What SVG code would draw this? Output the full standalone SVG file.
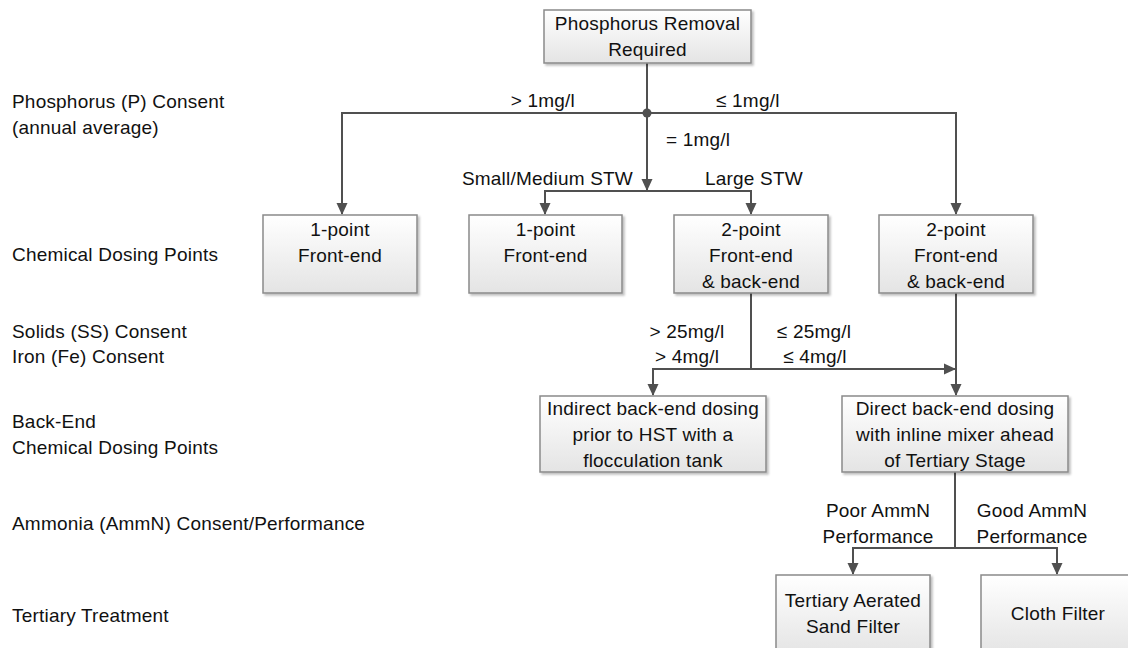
<svg xmlns="http://www.w3.org/2000/svg" width="1128" height="648" viewBox="0 0 1128 648">
<defs>
<linearGradient id="g" x1="0" y1="0" x2="0" y2="1">
<stop offset="0" stop-color="#ffffff"/>
<stop offset="1" stop-color="#e4e4e4"/>
</linearGradient>
<marker id="ar" markerWidth="12" markerHeight="12" viewBox="0 0 12 12" refX="11" refY="6" orient="auto" markerUnits="userSpaceOnUse">
<path d="M0,0.5 L12,6 L0,11.5 Z" fill="#505050"/>
</marker>
<filter id="sh" x="-10%" y="-10%" width="120%" height="130%">
<feDropShadow dx="2" dy="2" stdDeviation="1.2" flood-color="#000" flood-opacity="0.25"/>
</filter>
</defs>
<style>
text{font-family:"Liberation Sans",Arial,sans-serif;font-size:19px;letter-spacing:0.2px;fill:#111}
.c{text-anchor:middle}
.box{fill:url(#g);stroke:#8a8a8a;stroke-width:1.5;filter:url(#sh)}
.ln{fill:none;stroke:#505050;stroke-width:2}
.a{marker-end:url(#ar)}
</style>
<g id="labels">
<text x="12" y="108">Phosphorus (P) Consent</text>
<text x="12" y="134">(annual average)</text>
<text x="12" y="261">Chemical Dosing Points</text>
<text x="12" y="338">Solids (SS) Consent</text>
<text x="12" y="363">Iron (Fe) Consent</text>
<text x="12" y="428">Back-End</text>
<text x="12" y="454">Chemical Dosing Points</text>
<text x="12" y="530">Ammonia (AmmN) Consent/Performance</text>
<text x="12" y="622">Tertiary Treatment</text>
</g>
<g id="connectors">
<path class="ln a" d="M647,63 V190"/>
<path class="ln a" d="M647,113 H342 V214"/>
<path class="ln a" d="M647,113 H956 V214"/>
<circle cx="647" cy="113" r="4.5" fill="#505050"/>
<path class="ln a" d="M647,191 H545 V214"/>
<path class="ln a" d="M647,191 H751 V214"/>
<path class="ln" d="M751,293 V369"/>
<path class="ln a" d="M751,369 H653 V395"/>
<path class="ln a" d="M751,369 H955"/>
<path class="ln a" d="M956,293 V395"/>
<path class="ln" d="M955,472 V548"/>
<path class="ln a" d="M955,548 H853 V574"/>
<path class="ln a" d="M955,548 H1057 V574"/>
<text x="575" y="107" text-anchor="end">&gt; 1mg/l</text>
<text x="716" y="107">≤ 1mg/l</text>
<text x="666" y="146">= 1mg/l</text>
<text x="633" y="185" text-anchor="end">Small/Medium STW</text>
<text x="705" y="185">Large STW</text>
<text class="c" x="687" y="338">&gt; 25mg/l</text>
<text class="c" x="687" y="363">&gt; 4mg/l</text>
<text class="c" x="814" y="338">≤ 25mg/l</text>
<text class="c" x="815" y="363">≤ 4mg/l</text>
<text class="c" x="878" y="517">Poor AmmN</text>
<text class="c" x="878" y="543">Performance</text>
<text class="c" x="1032" y="517">Good AmmN</text>
<text class="c" x="1032" y="543">Performance</text>
</g>
<g id="n_top">
<rect class="box" x="544" y="10" width="207" height="53"/>
<text class="c" x="647.5" y="30">Phosphorus Removal</text>
<text class="c" x="647.5" y="56">Required</text>
</g>
<g id="n_p1">
<rect class="box" x="263" y="215" width="154" height="78"/>
<text class="c" x="340" y="236">1-point</text>
<text class="c" x="340" y="262">Front-end</text>
</g>
<g id="n_p2">
<rect class="box" x="469" y="215" width="153" height="78"/>
<text class="c" x="545.5" y="236">1-point</text>
<text class="c" x="545.5" y="262">Front-end</text>
</g>
<g id="n_p3">
<rect class="box" x="674" y="215" width="154" height="78"/>
<text class="c" x="751" y="236">2-point</text>
<text class="c" x="751" y="262">Front-end</text>
<text class="c" x="751" y="288">&amp; back-end</text>
</g>
<g id="n_p4">
<rect class="box" x="879" y="215" width="154" height="78"/>
<text class="c" x="956" y="236">2-point</text>
<text class="c" x="956" y="262">Front-end</text>
<text class="c" x="956" y="288">&amp; back-end</text>
</g>
<g id="n_indirect">
<rect class="box" x="540" y="396" width="226" height="76"/>
<text class="c" x="653" y="415">Indirect back-end dosing</text>
<text class="c" x="653" y="441">prior to HST with a</text>
<text class="c" x="653" y="467">flocculation tank</text>
</g>
<g id="n_direct">
<rect class="box" x="842" y="396" width="226" height="76"/>
<text class="c" x="955" y="415">Direct back-end dosing</text>
<text class="c" x="955" y="441">with inline mixer ahead</text>
<text class="c" x="955" y="467">of Tertiary Stage</text>
</g>
<g id="n_sand">
<rect class="box" x="776" y="575" width="154" height="80"/>
<text class="c" x="853" y="607">Tertiary Aerated</text>
<text class="c" x="853" y="633">Sand Filter</text>
</g>
<g id="n_cloth">
<rect class="box" x="981" y="575" width="154" height="80"/>
<text class="c" x="1058" y="620">Cloth Filter</text>
</g>
</svg>
